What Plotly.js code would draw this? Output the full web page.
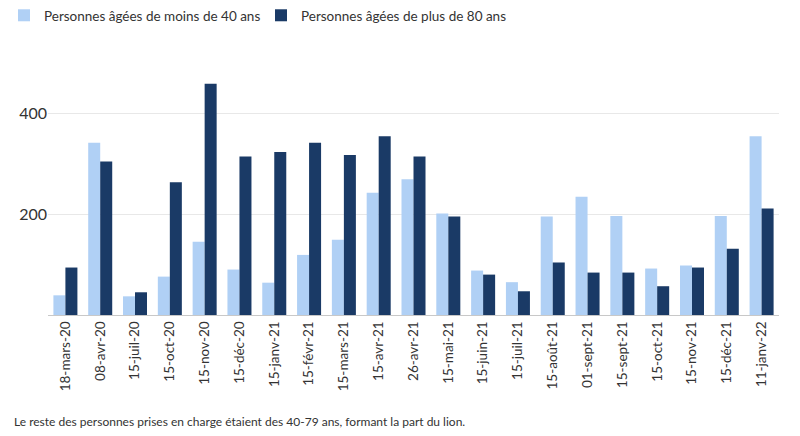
<!DOCTYPE html>
<html>
<head>
<meta charset="utf-8">
<script src="https://cdn.plot.ly/plotly-3.0.1.min.js"></script>
<style>
  html, body { margin: 0; padding: 0; background: #fff; }
  #chart { width: 800px; height: 436px; }
</style>
</head>
<body>
<div id="chart"></div>
<script>
// dates of the counts
var dates = ["18-mars-20", "08-avr-20", "15-juil-20", "15-oct-20", "15-nov-20", "15-déc-20",
  "15-janv-21", "15-févr-21", "15-mars-21", "15-avr-21", "26-avr-21", "15-mai-21",
  "15-juin-21", "15-juil-21", "15-août-21", "01-sept-21", "15-sept-21", "15-oct-21",
  "15-nov-21", "15-déc-21", "11-janv-22"];

var under40 = [39, 341, 37, 76, 145, 90, 64, 119, 149, 242, 269, 201, 88, 65, 195, 234, 196, 92, 98, 196, 354];
var over80 = [94, 304, 45, 263, 458, 314, 323, 341, 317, 354, 314, 195, 80, 47, 104, 84, 84, 57, 94, 131, 211];

var FONT = "Lato, 'Open Sans', sans-serif";

var traces = [
  { type: "bar", name: "Personnes âgées de moins de 40 ans", x: dates, y: under40,
    marker: { color: "#b0d0f5" }, hoverinfo: "x+y" },
  { type: "bar", name: "Personnes âgées de plus de 80 ans", x: dates, y: over80,
    marker: { color: "#1a3a66" }, hoverinfo: "x+y" }
];

var layout = {
  width: 800,
  height: 436,
  margin: { l: 48, r: 21, t: 60, b: 121 },
  paper_bgcolor: "#fff",
  plot_bgcolor: "#fff",
  font: { family: FONT, size: 14, color: "#333" },
  barmode: "group",
  bargap: 0.31,
  bargroupgap: 0,
  showlegend: true,
  legend: {
    orientation: "h",
    xref: "container", yref: "container",
    x: 0.005, y: 1.0, xanchor: "left", yanchor: "top",
    font: { size: 13.5, color: "#333" },
    itemwidth: 30,
    entrywidth: 212,
    entrywidthmode: "pixels",
    traceorder: "normal"
  },
  xaxis: {
    type: "category",
    tickangle: -90,
    tickfont: { size: 13.5, color: "#333" },
    showgrid: false,
    showline: true,
    linecolor: "#c8c8c8",
    ticks: "",
    fixedrange: true
  },
  yaxis: {
    range: [0, 505],
    tickvals: [200, 400],
    tickfont: { size: 16, color: "#333" },
    gridcolor: "#e8e8e8",
    zeroline: false,
    showline: false,
    ticks: "",
    fixedrange: true
  },
  annotations: [{
    xref: "paper", yref: "paper",
    x: -36 / 730, y: -106 / 255,
    xanchor: "left", yanchor: "middle",
    showarrow: false,
    text: "Le reste des personnes prises en charge étaient des 40-79 ans, formant la part du lion.",
    font: { size: 12, color: "#333" }
  }]
};

Plotly.newPlot("chart", traces, layout, { displayModeBar: false, staticPlot: true });
</script>
</body>
</html>
